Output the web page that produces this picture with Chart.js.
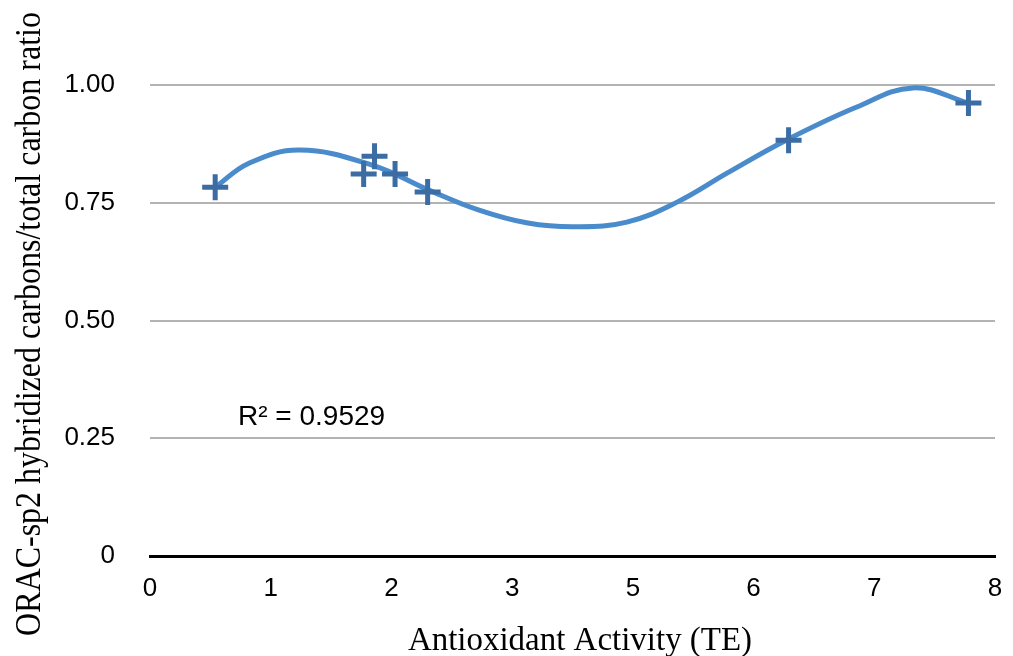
<!DOCTYPE html>
<html>
<head>
<meta charset="utf-8">
<script src="https://cdn.jsdelivr.net/npm/chart.js@4"></script>
<style>
  html, body { margin: 0; padding: 0; background: #fff; }
  #wrap { width: 1013px; height: 656px; }
</style>
</head>
<body>
<div id="wrap"><canvas id="chart" width="1013" height="656"></canvas></div>
<script>
// ===== Data =====
const xTickLabels = ["0", "1", "2", "3", "5", "6", "7", "8"];
const yTickValues = [0, 0.25, 0.5, 0.75, 1.0];
const yTickLabels = ["0", "0.25", "0.50", "0.75", "1.00"];

// measured points (x in axis tick units)
const pointX = [0.54, 1.77, 1.86, 2.03, 2.30, 5.29, 6.78];
const pointY = [0.783, 0.811, 0.849, 0.811, 0.773, 0.883, 0.962];

// trendline
const trendX = [0.54, 0.82, 1.24, 1.84, 2.31, 2.72, 3.13, 3.52, 3.95, 4.37, 4.78, 5.27, 5.85, 6.32, 6.78];
const trendY = [0.783, 0.834, 0.862, 0.830, 0.777, 0.735, 0.707, 0.699, 0.709, 0.752, 0.813, 0.883, 0.953, 0.994, 0.962];

const rSquaredText = "R\u00b2 = 0.9529";
const xTitle = "Antioxidant Activity (TE)";
const yTitle = "ORAC-sp2 hybridized carbons/total carbon ratio";

// ===== Extra text (titles, R²) =====
const textPlugin = {
  id: "textPlugin",
  afterDraw(chart) {
    const ctx = chart.ctx;
    ctx.save();
    ctx.fillStyle = "#000";
    ctx.font = "32px 'Liberation Serif', 'Times New Roman', serif";
    ctx.textAlign = "center";
    ctx.textBaseline = "alphabetic";
    ctx.save();
    ctx.translate(580, 650);
    ctx.scale(1.03, 1.05);
    ctx.fillText(xTitle, 0, 0);
    ctx.restore();

    ctx.translate(40, 324);
    ctx.rotate(-Math.PI / 2);
    ctx.scale(1.0, 1.1);
    ctx.fillText(yTitle, 0, 0);
    ctx.restore();

    ctx.save();
    ctx.fillStyle = "#000";
    ctx.font = "28px 'Liberation Sans', Arial, sans-serif";
    ctx.textAlign = "left";
    ctx.textBaseline = "middle";
    ctx.fillText(rSquaredText, 238, 417);
    ctx.restore();
  }
};

const ctx = document.getElementById("chart").getContext("2d");
new Chart(ctx, {
  type: "scatter",
  data: {
    datasets: [
      {
        label: "Data",
        data: pointX.map((x, i) => ({ x, y: pointY[i] })),
        pointStyle: "cross",
        pointRadius: 13,
        pointHoverRadius: 13,
        pointBorderWidth: 5,
        pointBorderColor: "#3b6ca3",
        pointBackgroundColor: "#3b6ca3",
        order: 0
      },
      {
        label: "Trend",
        data: trendX.map((x, i) => ({ x, y: trendY[i] })),
        showLine: true,
        borderColor: "#4a8bcb",
        borderWidth: 5,
        tension: 0.4,
        pointRadius: 0,
        pointHoverRadius: 0,
        order: 1
      }
    ]
  },
  options: {
    responsive: false,
    animation: false,
    events: [],
    layout: { padding: { top: 38, right: 8, left: 0, bottom: 0 } },
    plugins: {
      legend: { display: false },
      tooltip: { enabled: false }
    },
    scales: {
      x: {
        type: "linear",
        min: 0,
        max: 7,
        afterBuildTicks(scale) {
          scale.ticks = xTickLabels.map((_, i) => ({ value: i }));
        },
        afterFit(scale) {
          scale.height = 100;
          scale.paddingLeft = 0;
          scale.paddingRight = 0;
        },
        ticks: {
          callback: (v, i) => xTickLabels[i],
          font: { family: "'Liberation Sans', Arial, sans-serif", size: 26 },
          color: "#000",
          padding: 17,
          maxRotation: 0
        },
        grid: { display: false, drawTicks: false },
        border: { display: true, color: "#000", width: 3 }
      },
      y: {
        type: "linear",
        min: 0,
        max: 1.1,
        afterBuildTicks(scale) {
          scale.ticks = yTickValues.map(v => ({ value: v }));
        },
        afterFit(scale) {
          scale.width = 150;
          scale.paddingTop = 0;
          scale.paddingBottom = 0;
        },
        ticks: {
          callback: (v, i) => yTickLabels[i],
          font: { family: "'Liberation Sans', Arial, sans-serif", size: 26 },
          color: "#000",
          padding: 35
        },
        grid: { color: "#b3b3b3", lineWidth: 2, drawTicks: false },
        border: { display: false }
      }
    }
  },
  plugins: [textPlugin]
});
</script>
</body>
</html>
